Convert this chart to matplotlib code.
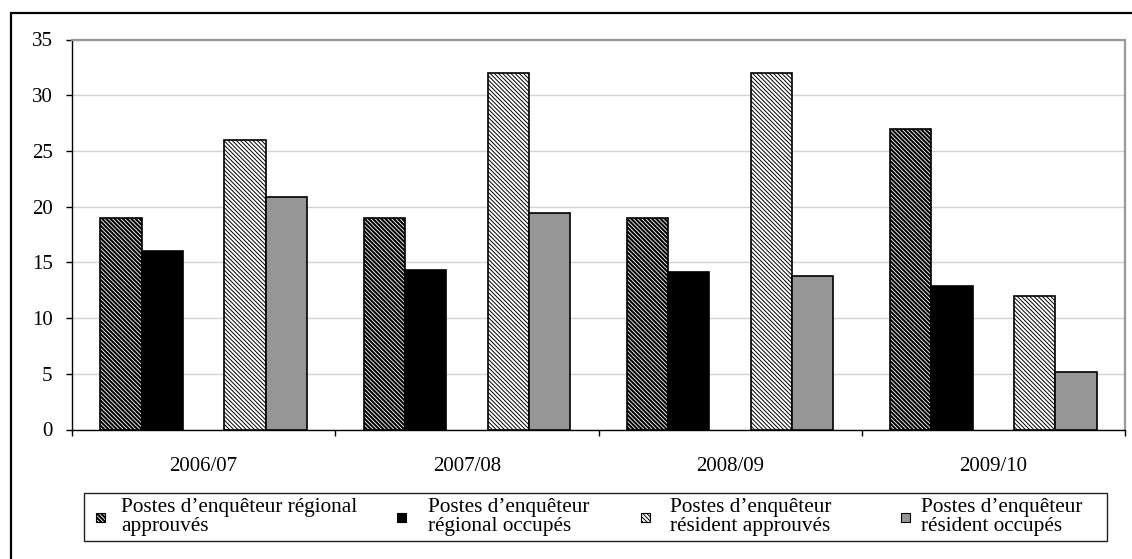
import matplotlib
matplotlib.use("Agg")
import matplotlib.pyplot as plt
from matplotlib.patches import Rectangle
import numpy as np

plt.rcParams['font.family'] = ['Liberation Serif', 'DejaVu Serif']

years = ['2006/07', '2007/08', '2008/09', '2009/10']
regional_approved = [19, 19, 19, 27]
regional_filled = [16, 14.3, 14.1, 12.9]
resident_approved = [26, 32, 32, 12]
resident_filled = [20.9, 19.4, 13.8, 5.2]

labels = [
    'Postes d\u2019enquêteur régional\napprouvés',
    'Postes d\u2019enquêteur\nrégional occupés',
    'Postes d\u2019enquêteur\nrésident approuvés',
    'Postes d\u2019enquêteur\nrésident occupés',
]

# bar look per series: face, hatch, hatch line width
styles = [
    dict(facecolor='white', hatch='\\' * 8, hlw=1.5),
    dict(facecolor='black', hatch=None, hlw=1.0),
    dict(facecolor='white', hatch='\\' * 8, hlw=0.7),
    dict(facecolor='#969696', hatch=None, hlw=1.0),
]

W, H = 1132, 559
fig = plt.figure(figsize=(W / 100, H / 100), dpi=100)
ax = fig.add_axes([72 / W, (H - 429.5) / H, (1125 - 72) / W, 390 / H])

x = np.arange(len(years))
w = 0.157
offsets = [-2 * w, -w, w, 2 * w]
series = [regional_approved, regional_filled, resident_approved, resident_filled]

for vals, off, st in zip(series, offsets, styles):
    with plt.rc_context({'hatch.linewidth': st['hlw']}):
        bars = ax.bar(x + off, vals, width=w, facecolor=st['facecolor'],
                      edgecolor='black', linewidth=1.2, hatch=st['hatch'],
                      zorder=3)
        for b in bars:
            if hasattr(b, 'set_hatch_linewidth'):
                b.set_hatch_linewidth(st['hlw'])

ax.set_xlim(-0.5, 3.5)
ax.set_ylim(0, 35)
ax.set_yticks(np.arange(0, 36, 5))
ax.yaxis.grid(True, color='#d2d2d2', linewidth=1.0)
ax.set_axisbelow(True)

# group boundaries as major ticks, year names as minor labels
ax.set_xticks(np.arange(-0.5, 4, 1))
ax.set_xticklabels([])
ax.set_xticks(x, minor=True)
ax.set_xticklabels(years, minor=True)
ax.tick_params(axis='x', which='major', direction='out', length=4, width=1)
ax.tick_params(axis='x', which='minor', length=0, pad=20, labelsize=15)
ax.tick_params(axis='y', direction='out', length=4, width=1, pad=10, labelsize=15)

for s in ['left', 'bottom']:
    ax.spines[s].set_color('black')
    ax.spines[s].set_linewidth(1.0)
for s in ['top', 'right']:
    ax.spines[s].set_color('#999999')
    ax.spines[s].set_linewidth(1.6)

# outer chart frame
fig.patches.append(Rectangle((11 / W, -0.05), 1.1, (H - 13) / H + 0.05,
                             transform=fig.transFigure, fill=False,
                             edgecolor='black', linewidth=1.6))

# legend box with four entries
fig.patches.append(Rectangle((84 / W, (H - 541) / H), (1107 - 84) / W, 48 / H,
                             transform=fig.transFigure, fill=False,
                             edgecolor='#222222', linewidth=1.0))
hx = [96, 397, 641, 901]
tx = [121, 428, 670, 921]
cy = 517
hs = 9
for lab, st, h0, t0 in zip(labels, styles, hx, tx):
    with plt.rc_context({'hatch.linewidth': st['hlw']}):
        p = Rectangle((h0 / W, (H - cy - hs / 2) / H), hs / W, hs / H,
                      transform=fig.transFigure, facecolor=st['facecolor'],
                      edgecolor='black', linewidth=0.8, hatch=st['hatch'])
        if hasattr(p, 'set_hatch_linewidth'):
            p.set_hatch_linewidth(st['hlw'])
    fig.patches.append(p)
    fig.text(t0 / W, (H - cy) / H, lab, ha='left', va='center',
             fontsize=15.3, linespacing=1.02)

fig.savefig('out.png', dpi=100)
